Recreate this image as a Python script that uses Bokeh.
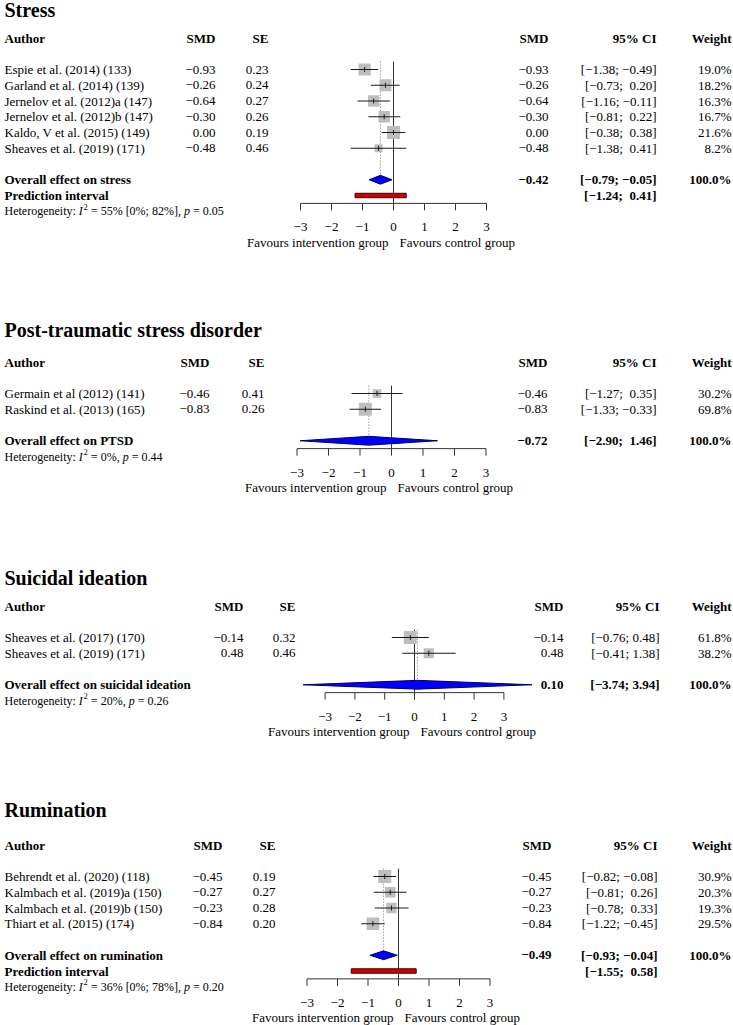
from bokeh.plotting import figure
from bokeh.models import ColumnDataSource, Range1d
from bokeh.layouts import column
from bokeh.embed import file_html
from bokeh.resources import INLINE
from bokeh.core.properties import value
import math

FONT = "Liberation Serif"
TICKS = [-3, -2, -1, 0, 1, 2, 3]
LEFT_LABEL = "Favours intervention group"
RIGHT_LABEL = "Favours control group"

# ---------------- Stress ----------------
stress_title = "Stress"
stress_overall_label = "Overall effect on stress"
stress_studies = ["Espie et al. (2014) (133)", "Garland et al. (2014) (139)",
                  "Jernelov et al. (2012)a (147)", "Jernelov et al. (2012)b (147)",
                  "Kaldo, V et al. (2015) (149)", "Sheaves et al. (2019) (171)"]
stress_smd = [-0.93, -0.26, -0.64, -0.30, 0.00, -0.48]
stress_se = [0.23, 0.24, 0.27, 0.26, 0.19, 0.46]
stress_lo = [-1.38, -0.73, -1.16, -0.81, -0.38, -1.38]
stress_hi = [-0.49, 0.20, -0.11, 0.22, 0.38, 0.41]
stress_w = [19.0, 18.2, 16.3, 16.7, 21.6, 8.2]
stress_pooled = [-0.42, -0.79, -0.05]
stress_pi = [-1.24, 0.41]
stress_het = ["55%", "[0%; 82%]", "0.05"]

# ---------------- PTSD ----------------
ptsd_title = "Post-traumatic stress disorder"
ptsd_overall_label = "Overall effect on PTSD"
ptsd_studies = ["Germain et al (2012) (141)", "Raskind et al. (2013) (165)"]
ptsd_smd = [-0.46, -0.83]
ptsd_se = [0.41, 0.26]
ptsd_lo = [-1.27, -1.33]
ptsd_hi = [0.35, -0.33]
ptsd_w = [30.2, 69.8]
ptsd_pooled = [-0.72, -2.90, 1.46]
ptsd_pi = None
ptsd_het = ["0%", None, "0.44"]

# ---------------- Suicidal ideation ----------------
sui_title = "Suicidal ideation"
sui_overall_label = "Overall effect on suicidal ideation"
sui_studies = ["Sheaves et al. (2017) (170)", "Sheaves et al. (2019) (171)"]
sui_smd = [-0.14, 0.48]
sui_se = [0.32, 0.46]
sui_lo = [-0.76, -0.41]
sui_hi = [0.48, 1.38]
sui_w = [61.8, 38.2]
sui_pooled = [0.10, -3.74, 3.94]
sui_pi = None
sui_het = ["20%", None, "0.26"]

# ---------------- Rumination ----------------
rum_title = "Rumination"
rum_overall_label = "Overall effect on rumination"
rum_studies = ["Behrendt et al. (2020) (118)", "Kalmbach et al. (2019)a (150)",
               "Kalmbach et al. (2019)b (150)", "Thiart et al. (2015) (174)"]
rum_smd = [-0.45, -0.27, -0.23, -0.84]
rum_se = [0.19, 0.27, 0.28, 0.20]
rum_lo = [-0.82, -0.81, -0.78, -1.22]
rum_hi = [-0.08, 0.26, 0.33, -0.45]
rum_w = [30.9, 20.3, 19.3, 29.5]
rum_pooled = [-0.49, -0.93, -0.04]
rum_pi = [-1.55, 0.58]
rum_het = ["36%", "[0%; 78%]", "0.20"]

# Times / Liberation Serif advance widths (1/1000 em)
TIMES = {' ': 250, '%': 833, '(': 333, ')': 333, ',': 250, '.': 250, ':': 278,
         ';': 278, '=': 564, '[': 333, ']': 333, 'H': 722, 'I': 333, 'e': 444,
         't': 278, 'r': 333, 'o': 500, 'g': 500, 'n': 500, 'i': 278, 'y': 500, 'p': 500}


def tw(s, size):
    return sum(TIMES.get(c, 500) for c in s) * size / 1000.0


def fmt(v):
    s = f"{v:.2f}"
    if s == "-0.00":
        s = "0.00"
    return s.replace("-", "\u2212")


ROW = 15.75
W = 733
FS = 13
HS = 12


def make_panel(title, overall_label, studies, smd, se, lo, hi, w, pooled, pi, het, cfg):
    k = len(studies)
    ppu, zero = cfg["ppu"], cfg["zero"]
    x0 = (0 - zero) / ppu
    x1 = x0 + W / ppu
    top, H, r0 = cfg["top"], cfg["height"], cfg["row0"]
    y_top = -(r0 - top) / ROW
    y_bot = y_top + H / ROW
    p = figure(width=W, height=H, x_range=Range1d(x0, x1), y_range=Range1d(y_bot, y_top),
               output_backend="svg", toolbar_location=None, min_border=0,
               x_axis_location=None, y_axis_location=None)
    p.grid.visible = False
    p.outline_line_color = None
    p.background_fill_color = "white"
    p.border_fill_color = "white"

    def txt(sx, ys, texts, align="left", bold=False, size=FS, italic=False, dy=0, xs=None):
        xv = xs if xs is not None else [x0] * len(ys)
        style = "bold" if bold else ("italic" if italic else "normal")
        src = ColumnDataSource(dict(x=xv, y=ys, t=texts))
        p.text(x="x", y="y", text="t", source=src, x_offset=sx, y_offset=dy,
               text_align=align, text_baseline="middle", text_font=value(FONT),
               text_font_size=f"{size}px", text_font_style=style, text_color="black")

    rows = list(range(k))
    overall_y = k + 1
    pi_y = k + 2 if pi else None
    het_y = (k + 3) if pi else (k + 2)
    axis_y = (pi_y if pi else overall_y) + 0.5
    tick_y = axis_y + 24 / ROW
    fav_y = axis_y + 39 / ROW

    all_hi = list(hi) + [pooled[2]] + ([pi[1]] if pi else [])
    pad = any(h < 0 for h in all_hi)

    def ci(a, b):
        sep = " " if (b < 0 or not pad) else "\u00a0\u00a0"
        return "[" + fmt(a) + ";" + sep + fmt(b) + "]"

    c = cfg["cols"]
    # title
    txt(c[0], [cfg["title_row"]], [title], bold=True, size=20)
    # headers
    txt(c[0], [-2], ["Author"], bold=True)
    txt(c[1], [-2], ["SMD"], align="right", bold=True)
    txt(c[2], [-2], ["SE"], align="right", bold=True)
    txt(c[3], [-2], ["SMD"], align="right", bold=True)
    txt(c[4], [-2], ["95% CI"], align="right", bold=True)
    txt(c[5], [-2], ["Weight"], align="right", bold=True)
    # study rows
    txt(c[0], rows, studies)
    txt(c[1], rows, [fmt(v) for v in smd], align="right")
    txt(c[2], rows, [f"{v:.2f}" for v in se], align="right")
    txt(c[3], rows, [fmt(v) for v in smd], align="right")
    txt(c[4], rows, [ci(a, b) for a, b in zip(lo, hi)], align="right")
    txt(c[5], rows, [f"{v:.1f}%" for v in w], align="right")
    # overall
    txt(c[0], [overall_y], [overall_label], bold=True)
    txt(c[3], [overall_y], [fmt(pooled[0])], align="right", bold=True)
    txt(c[4], [overall_y], [ci(pooled[1], pooled[2])], align="right", bold=True)
    txt(c[5], [overall_y], ["100.0%"], align="right", bold=True)
    if pi:
        txt(c[0], [pi_y], ["Prediction interval"], bold=True)
        txt(c[4], [pi_y], [ci(pi[0], pi[1])], align="right", bold=True)

    # heterogeneity line with italic I, superscript 2 and italic p
    i2, i2ci, pval = het
    base = c[0]
    o_I = base + tw("Heterogeneity: ", HS)
    o_2 = o_I + tw("I", HS) + 0.8
    rest1 = "= " + i2 + ((" " + i2ci) if i2ci else "") + ","
    o_r1 = o_2 + tw("2", 8.5) + tw(" ", HS)
    o_p = o_r1 + tw(rest1, HS) + tw(" ", HS)
    o_r2 = o_p + tw("p", HS) + tw(" ", HS)
    txt(base, [het_y], ["Heterogeneity:"], size=HS)
    txt(o_I, [het_y], ["I"], italic=True, size=HS)
    txt(o_2, [het_y], ["2"], size=8.5, dy=-4.5)
    txt(o_r1, [het_y], [rest1], size=HS)
    txt(o_p, [het_y], ["p"], italic=True, size=HS)
    txt(o_r2, [het_y], ["= " + pval], size=HS)

    # reference lines
    p.segment(x0=[0], y0=[-0.5], x1=[0], y1=[axis_y], line_color="#333333", line_width=1)
    p.segment(x0=[pooled[0]], y0=[-0.5], x1=[pooled[0]], y1=[overall_y - 0.28],
              line_color="#707070", line_width=1, line_dash="1 2")

    # squares, CIs, estimate ticks
    wmax = max(w)
    sizes = [13.0 * math.sqrt(v / wmax) for v in w]
    p.scatter(x=smd, y=rows, marker="square", size=sizes, fill_color="#BEBEBE",
              line_color=None)
    p.segment(x0=lo, y0=rows, x1=hi, y1=rows, line_color="#1a1a1a", line_width=1)
    p.segment(x0=smd, y0=[r - 0.16 for r in rows], x1=smd, y1=[r + 0.16 for r in rows],
              line_color="#1a1a1a", line_width=1)

    # diamond
    p.patch(x=[pooled[1], pooled[0], pooled[2], pooled[0]],
            y=[overall_y, overall_y - 0.28, overall_y, overall_y + 0.28],
            fill_color="#0000FF", line_color="#000060", line_width=1)
    # prediction interval
    if pi:
        p.quad(left=[pi[0]], right=[pi[1]], top=[pi_y - 0.14], bottom=[pi_y + 0.14],
               fill_color="#D00000", line_color="#400000", line_width=1)

    # x axis
    p.segment(x0=[TICKS[0]], y0=[axis_y], x1=[TICKS[-1]], y1=[axis_y],
              line_color="#333333", line_width=1)
    p.segment(x0=TICKS, y0=[axis_y] * len(TICKS), x1=TICKS,
              y1=[axis_y + 7 / ROW] * len(TICKS), line_color="#333333", line_width=1)
    txt(0, [tick_y] * len(TICKS), [fmt(t).replace(".00", "") for t in TICKS],
        align="center", xs=TICKS)
    txt(-5, [fav_y], [LEFT_LABEL], align="right", xs=[0])
    txt(6, [fav_y], [RIGHT_LABEL], align="left", xs=[0])
    return p


p1 = make_panel(stress_title, stress_overall_label, stress_studies, stress_smd, stress_se,
                stress_lo, stress_hi, stress_w, stress_pooled, stress_pi, stress_het,
                dict(ppu=31.0, zero=393, top=0, height=300, row0=69, title_row=-3.8,
                     cols=[4, 215, 268, 548, 656, 731]))
p2 = make_panel(ptsd_title, ptsd_overall_label, ptsd_studies, ptsd_smd, ptsd_se,
                ptsd_lo, ptsd_hi, ptsd_w, ptsd_pooled, ptsd_pi, ptsd_het,
                dict(ppu=31.5, zero=391, top=300, height=240, row0=393, title_row=-4.05,
                     cols=[4, 209, 264, 547, 656, 731]))
p3 = make_panel(sui_title, sui_overall_label, sui_studies, sui_smd, sui_se,
                sui_lo, sui_hi, sui_w, sui_pooled, sui_pi, sui_het,
                dict(ppu=29.8, zero=414, top=540, height=240, row0=637, title_row=-3.8,
                     cols=[4, 243, 295, 563, 659, 731]))
p4 = make_panel(rum_title, rum_overall_label, rum_studies, rum_smd, rum_se,
                rum_lo, rum_hi, rum_w, rum_pooled, rum_pi, rum_het,
                dict(ppu=30.5, zero=398, top=780, height=245, row0=876, title_row=-4.2,
                     cols=[4, 222, 275, 551, 657, 731]))

layout = column(p1, p2, p3, p4, spacing=0)
open("out.html", "w").write(file_html(layout, INLINE))
